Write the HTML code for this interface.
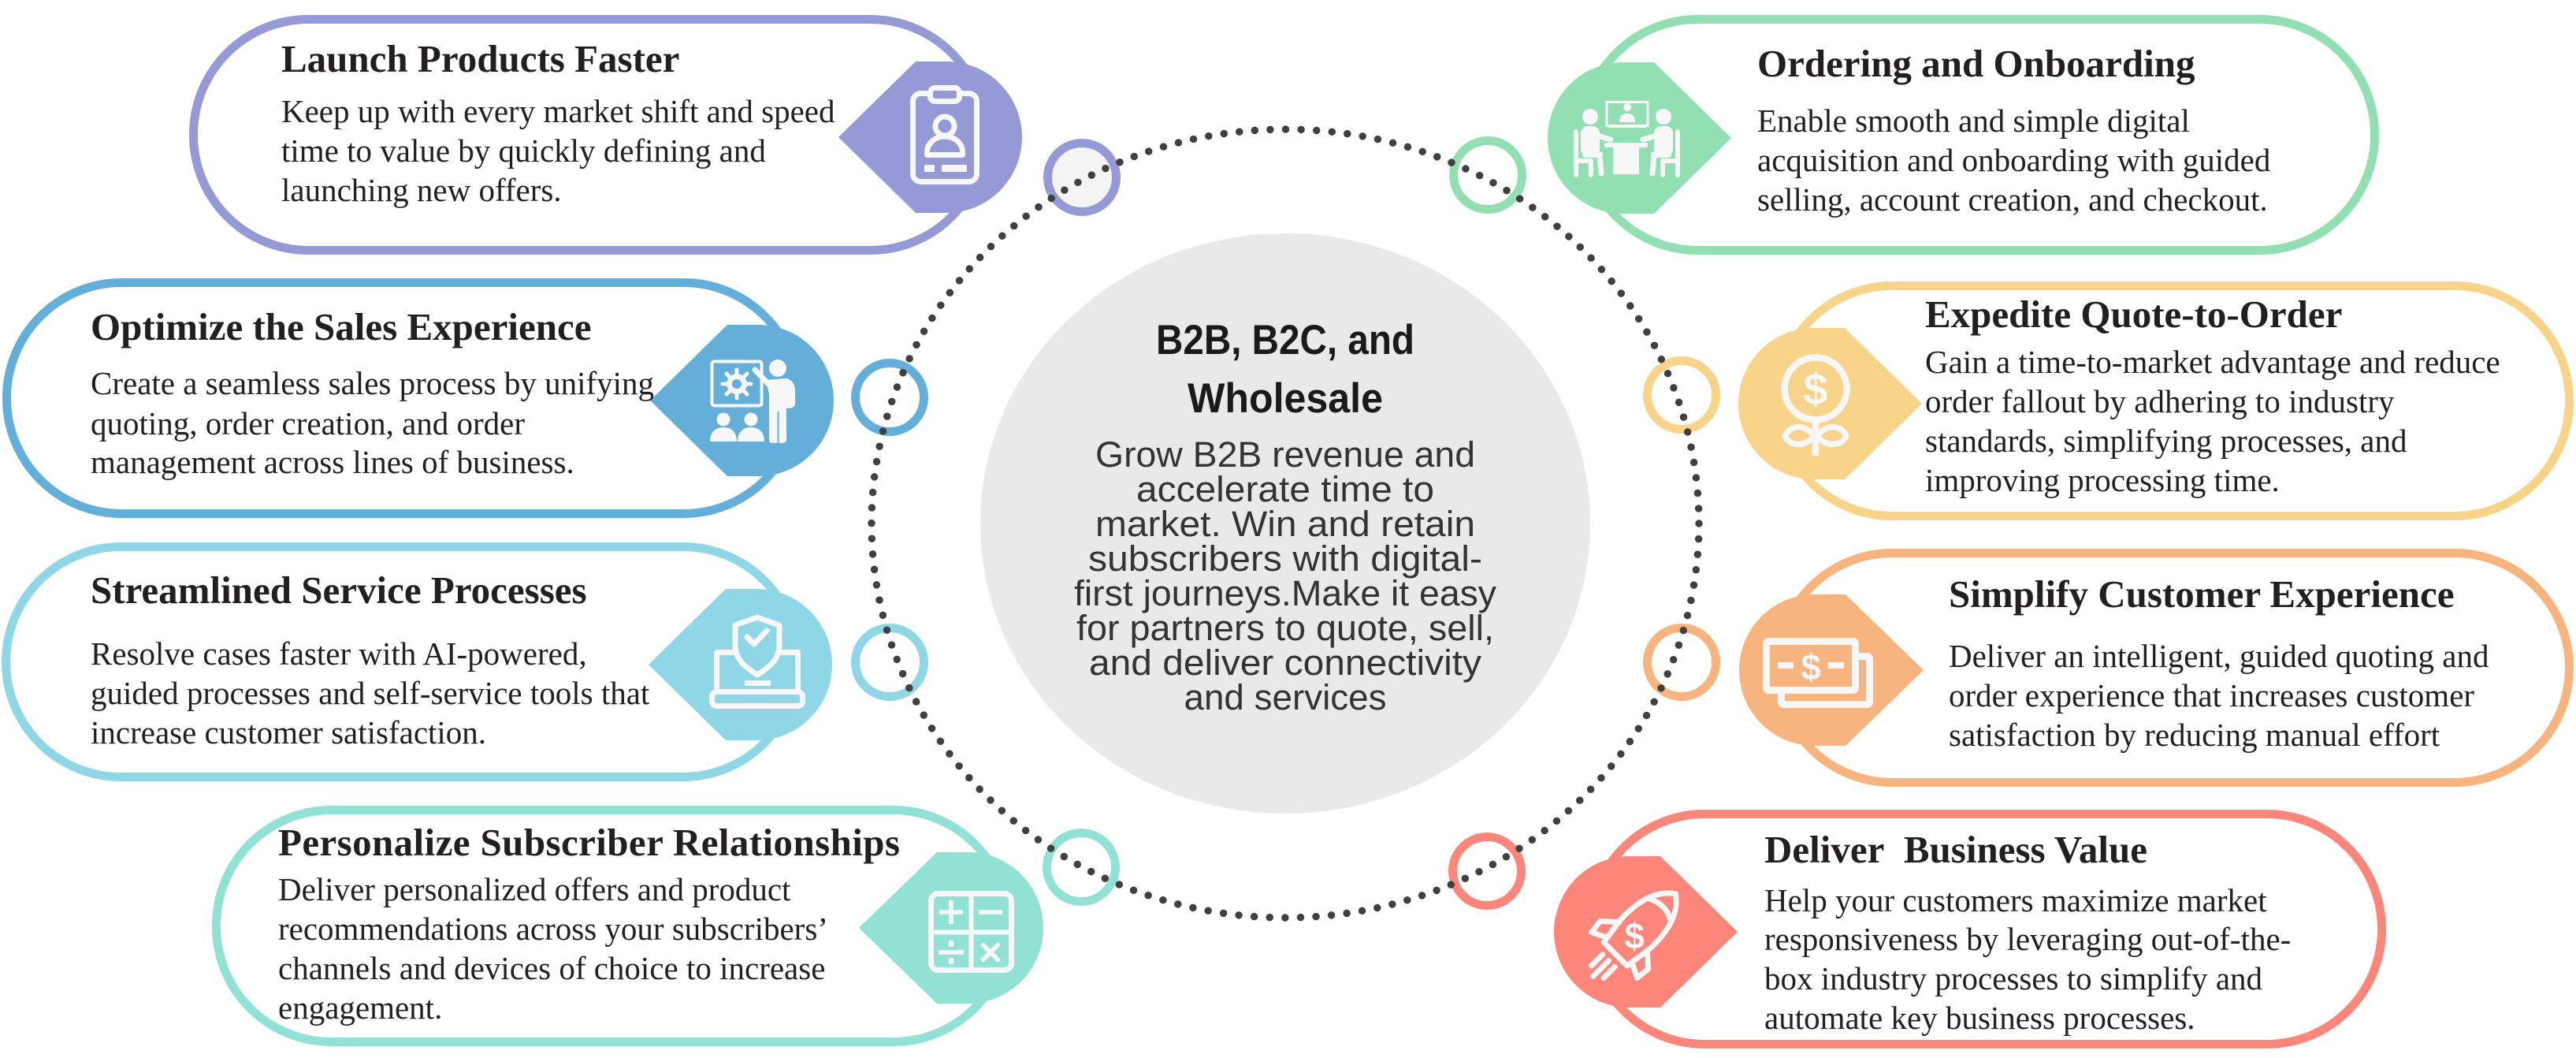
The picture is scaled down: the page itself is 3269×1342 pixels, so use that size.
<!DOCTYPE html>
<html>
<head>
<meta charset="utf-8">
<style>
html,body{margin:0;padding:0;background:#fff;}
svg{display:block;}
</style>
</head>
<body>
<svg xmlns="http://www.w3.org/2000/svg" width="3269" height="1342" viewBox="0 0 3269 1342">
<rect x="0" y="0" width="3269" height="1342" fill="#ffffff"/>

<!-- Center grey ellipse -->
<ellipse cx="1631" cy="664" rx="387" ry="368" fill="#e9e9e9"/>

<!-- Small ring circles -->
<g stroke-width="11" >
  <circle cx="1373" cy="225" r="43.5" fill="#f4f4f4" stroke="#9599d6"/>
  <circle cx="1888" cy="222" r="43.5" fill="#ffffff" stroke="#91dfb2"/>
  <circle cx="1129" cy="504" r="43.5" fill="#ffffff" stroke="#63afd9"/>
  <circle cx="2134" cy="501" r="43.5" fill="#ffffff" stroke="#f8d48a"/>
  <circle cx="1129" cy="840" r="43.5" fill="#ffffff" stroke="#8fd6e7"/>
  <circle cx="2134" cy="840" r="43.5" fill="#ffffff" stroke="#f7b47e"/>
  <circle cx="1372" cy="1100" r="43.5" fill="#ffffff" stroke="#91e1d5"/>
  <circle cx="1887" cy="1105" r="43.5" fill="#ffffff" stroke="#fd867b"/>
</g>

<!-- Dotted ring -->
<ellipse cx="1631" cy="664" rx="525" ry="500" fill="none" stroke="#404040" stroke-width="9.5" stroke-linecap="round" stroke-dasharray="0 19.64"/>

<!-- Center text -->
<g font-family="'Liberation Sans', Arial, sans-serif" text-anchor="middle">
  <text x="1631" y="449" font-size="53" font-weight="bold" fill="#1a1a1a" textLength="328" lengthAdjust="spacingAndGlyphs">B2B, B2C, and</text>
  <text x="1631" y="523" font-size="53" font-weight="bold" fill="#1a1a1a" textLength="248" lengthAdjust="spacingAndGlyphs">Wholesale</text>
  <g font-size="45" fill="#333333">
    <text x="1631" y="592" textLength="482" lengthAdjust="spacingAndGlyphs">Grow B2B revenue and</text>
    <text x="1631" y="636" textLength="378" lengthAdjust="spacingAndGlyphs">accelerate time to</text>
    <text x="1631" y="680" textLength="482" lengthAdjust="spacingAndGlyphs">market. Win and retain</text>
    <text x="1631" y="724" textLength="500" lengthAdjust="spacingAndGlyphs">subscribers with digital-</text>
    <text x="1631" y="768" textLength="536" lengthAdjust="spacingAndGlyphs">first journeys.Make it easy</text>
    <text x="1631" y="812" textLength="530" lengthAdjust="spacingAndGlyphs">for partners to quote, sell,</text>
    <text x="1631" y="856" textLength="498" lengthAdjust="spacingAndGlyphs">and deliver connectivity</text>
    <text x="1631" y="900" textLength="257" lengthAdjust="spacingAndGlyphs">and services</text>
  </g>
</g>

<!-- Pills -->
<g fill="#ffffff" stroke-width="11">
  <rect x="245.5" y="24.5" width="1005" height="293" rx="146" ry="146" stroke="#9599d6"/>
  <rect x="8.5" y="358.5" width="1005" height="293" rx="146" ry="146" stroke="#63afd9"/>
  <rect x="7.5" y="693.5" width="1005" height="292" rx="146" ry="146" stroke="#8fd6e7"/>
  <rect x="274.5" y="1027.5" width="1005" height="294" rx="146" ry="146" stroke="#91e1d5"/>
  <rect x="2008.5" y="24.5" width="1005" height="293" rx="146" ry="146" stroke="#91dfb2"/>
  <rect x="2255.5" y="362.5" width="1005" height="292" rx="146" ry="146" stroke="#f8d48a"/>
  <rect x="2255.5" y="701.5" width="1005" height="291" rx="146" ry="146" stroke="#f7b47e"/>
  <rect x="2017.5" y="1032.5" width="1005" height="292" rx="146" ry="146" stroke="#fd867b"/>
</g>

<!-- Badges (left side: point to left) -->
<g fill="#9599d6">
  <path d="M1064 174 L1162 78 L1201 78 L1201 270 L1162 270 Z"/><circle cx="1201" cy="174" r="96"/>
</g>
<g fill="#63afd9">
  <path d="M825 508 L923 412 L962 412 L962 604 L923 604 Z"/><circle cx="962" cy="508" r="96"/>
</g>
<g fill="#8fd6e7">
  <path d="M823 843 L921 747 L960 747 L960 939 L921 939 Z"/><circle cx="960" cy="843" r="96"/>
</g>
<g fill="#91e1d5">
  <path d="M1090 1177 L1189 1081 L1228 1081 L1228 1273 L1189 1273 Z"/><circle cx="1228" cy="1177" r="96"/>
</g>
<!-- Badges (right side: point to right) -->
<g fill="#91dfb2">
  <path d="M2197 175 L2099 79 L2060 79 L2060 271 L2099 271 Z"/><circle cx="2060" cy="175" r="96"/>
</g>
<g fill="#f8d48a">
  <path d="M2439 512 L2341 416 L2302 416 L2302 608 L2341 608 Z"/><circle cx="2302" cy="512" r="96"/>
</g>
<g fill="#f7b47e">
  <path d="M2441 850 L2342 754 L2303 754 L2303 946 L2342 946 Z"/><circle cx="2303" cy="850" r="96"/>
</g>
<g fill="#fd867b">
  <path d="M2205 1182 L2107 1086 L2068 1086 L2068 1278 L2107 1278 Z"/><circle cx="2068" cy="1182" r="96"/>
</g>

<!-- Icons -->
<!-- Purple: ID clipboard -->
<g stroke="#f7f7f7" stroke-width="7" fill="none" stroke-linejoin="round" stroke-linecap="round">
  <rect x="1158.5" y="118.5" width="81" height="112" rx="10"/>
  <rect x="1180.5" y="111.5" width="37" height="17" rx="6" fill="#9599d6"/>
  <circle cx="1199" cy="160" r="12"/>
  <path d="M1176.5 196.5 L1176.5 193 A22.5 20 0 0 1 1221.5 193 L1221.5 196.5 Z"/>
</g>
<g fill="#f7f7f7">
  <rect x="1173" y="209" width="13" height="9"/>
  <rect x="1195" y="209" width="32" height="9"/>
</g>

<!-- Blue: presenter -->
<g fill="#f7f7f7">
  <rect x="903.5" y="458.5" width="63" height="56" rx="3" fill="none" stroke="#f7f7f7" stroke-width="4"/>
  <circle cx="935" cy="487" r="13"/>
  <g stroke="#f7f7f7" stroke-width="5" stroke-linecap="round">
    <line x1="935" y1="469" x2="935" y2="505"/>
    <line x1="917" y1="487" x2="953" y2="487"/>
    <line x1="922" y1="474" x2="948" y2="500"/>
    <line x1="948" y1="474" x2="922" y2="500"/>
  </g>
  <circle cx="935" cy="487" r="6" fill="#63afd9"/>
  <circle cx="987" cy="467" r="11"/>
  <line x1="958" y1="469" x2="977" y2="489" stroke="#f7f7f7" stroke-width="7" stroke-linecap="round"/>
  <path d="M972 482 L998 480 C1006 482 1009 488 1009 496 L1009 512 C1009 516 1005 518 1000 518 L998 518 L998 558 C998 561 995 562 992 562 L981 562 C978 562 976 561 976 558 L976 500 Z"/>
  <line x1="987.5" y1="522" x2="987.5" y2="562" stroke="#63afd9" stroke-width="2"/>
  <circle cx="918" cy="532" r="8.5"/>
  <circle cx="953" cy="532" r="8.5"/>
  <path d="M901 560 C901 548 908 542 918 542 C928 542 935 548 935 560 Z"/>
  <path d="M936 560 C936 548 943 542 953 542 C963 542 970 548 970 560 Z"/>
</g>

<!-- Light blue: laptop with shield -->
<g stroke="#f7f7f7" stroke-width="7" fill="none" stroke-linejoin="round">
  <path d="M940 827.5 L909.5 827.5 L909.5 876 M1012.5 876 L1012.5 827.5 L982 827.5"/>
  <rect x="903.5" y="877.5" width="115" height="18" rx="6"/>
  <path d="M961 783 L989 793 L989 818 C989 836 977 846 961 856 C945 846 933 836 933 818 L933 793 Z" fill="#8fd6e7"/>
  <polyline points="948,808 957,817 973,800" stroke-linecap="round"/>
</g>
<rect x="945" y="863" width="33" height="7" fill="#f7f7f7"/>

<!-- Teal: calculator -->
<g stroke="#f7f7f7" fill="none">
  <rect x="1181.5" y="1133.5" width="102" height="97" rx="9" stroke-width="7"/>
  <line x1="1232.5" y1="1134" x2="1232.5" y2="1230" stroke-width="6"/>
  <line x1="1182" y1="1182.5" x2="1283" y2="1182.5" stroke-width="6"/>
  <g stroke-width="5.5">
    <line x1="1192" y1="1157" x2="1222" y2="1157"/>
    <line x1="1207" y1="1142" x2="1207" y2="1172"/>
    <line x1="1242" y1="1157" x2="1272" y2="1157"/>
    <line x1="1191" y1="1208" x2="1223" y2="1208"/>
    <line x1="1246" y1="1197" x2="1268" y2="1219"/>
    <line x1="1268" y1="1197" x2="1246" y2="1219"/>
  </g>
</g>
<g fill="#f7f7f7">
  <rect x="1204" y="1193" width="6" height="8"/>
  <rect x="1204" y="1215" width="6" height="8"/>
</g>

<!-- Green: meeting -->
<g fill="#f7f7f7">
  <rect x="2039" y="129.5" width="52" height="30" fill="none" stroke="#f7f7f7" stroke-width="3"/>
  <line x1="2041" y1="161" x2="2089" y2="161" stroke="#f7f7f7" stroke-width="2"/>
  <circle cx="2065" cy="136" r="5"/>
  <path d="M2055 155 C2055 147 2059 144 2065 144 C2071 144 2075 147 2075 155 Z"/>
  <rect x="2036" y="181" width="55" height="6" rx="2"/>
  <rect x="2047" y="187" width="33" height="34"/>
  <g id="gp">
    <circle cx="2018" cy="148" r="10"/>
    <rect x="2006" y="160" width="24" height="38" rx="9"/>
    <line x1="2020" y1="170" x2="2044" y2="177" stroke="#f7f7f7" stroke-width="7" stroke-linecap="round"/>
    <line x1="2012" y1="196" x2="2030" y2="196" stroke="#f7f7f7" stroke-width="8" stroke-linecap="round"/>
    <line x1="2030" y1="196" x2="2032" y2="220" stroke="#f7f7f7" stroke-width="7" stroke-linecap="round"/>
    <line x1="2000" y1="167" x2="2000" y2="222" stroke="#f7f7f7" stroke-width="6" stroke-linecap="round"/>
    <line x1="2000" y1="204" x2="2020" y2="204" stroke="#f7f7f7" stroke-width="6"/>
    <line x1="2019" y1="204" x2="2019" y2="222" stroke="#f7f7f7" stroke-width="6" stroke-linecap="round"/>
  </g>
  <use href="#gp" transform="translate(4129,0) scale(-1,1)"/>
</g>

<!-- Yellow: money flower -->
<g stroke="#f7f7f7" fill="none" stroke-width="8.5">
  <circle cx="2304" cy="493" r="39.5"/>
  <line x1="2304" y1="533" x2="2304" y2="578"/>
  <path d="M2302 553 C2292 538 2272 538 2265 553 C2272 567 2292 567 2302 553 Z" stroke-width="7.5" stroke-linejoin="round"/>
  <path d="M2306 553 C2316 538 2336 538 2343 553 C2336 567 2316 567 2306 553 Z" stroke-width="7.5" stroke-linejoin="round"/>
</g>
<text x="2304" y="513" font-family="'Liberation Sans', Arial, sans-serif" font-weight="bold" font-size="56" fill="#f7f7f7" text-anchor="middle">$</text>

<!-- Orange: bills -->
<g stroke="#f7f7f7" stroke-width="9" stroke-linejoin="round">
  <rect x="2260.5" y="832.5" width="112" height="61" rx="3" fill="none"/>
  <rect x="2241.5" y="813.5" width="113" height="62" rx="3" fill="#f7b47e"/>
</g>
<g fill="#f7f7f7">
  <rect x="2256" y="840" width="20" height="8"/>
  <rect x="2320" y="840" width="20" height="8"/>
</g>
<text x="2298" y="862" font-family="'Liberation Sans', Arial, sans-serif" font-weight="bold" font-size="46" fill="#f7f7f7" text-anchor="middle">$</text>

<!-- Salmon: rocket -->
<g transform="translate(2074,1186) rotate(45)" stroke="#f7f7f7" stroke-width="7" fill="none" stroke-linejoin="round" stroke-linecap="round">
  <path d="M0 -74 C20 -60 28 -35 26 0 L21 34 L-21 34 L-26 0 C-28 -35 -20 -60 0 -74 Z"/>
  <path d="M-19 -46 Q0 -56 19 -46"/>
  <path d="M-25 2 L-43 18 L-41 36 L-23 27"/>
  <path d="M25 2 L43 18 L41 36 L23 27"/>
  <line x1="-11" y1="46" x2="-11" y2="66"/>
  <line x1="0" y1="46" x2="0" y2="74"/>
  <line x1="11" y1="46" x2="11" y2="66"/>
</g>
<text x="2074" y="1203" font-family="'Liberation Sans', Arial, sans-serif" font-weight="bold" font-size="46" fill="#f7f7f7" text-anchor="middle">$</text>

<!-- Pill text -->
<g font-family="'Liberation Serif', 'Times New Roman', serif" fill="#231f20">
  <!-- Purple -->
  <text x="357" y="91" font-size="49" font-weight="bold">Launch Products Faster</text>
  <g font-size="41">
    <text x="357" y="155">Keep up with every market shift and speed</text>
    <text x="357" y="205">time to value by quickly defining and</text>
    <text x="357" y="255">launching new offers.</text>
  </g>
  <!-- Blue -->
  <text x="115" y="431" font-size="49" font-weight="bold">Optimize the Sales Experience</text>
  <g font-size="41">
    <text x="115" y="500">Create a seamless sales process by unifying</text>
    <text x="115" y="551">quoting, order creation, and order</text>
    <text x="115" y="600">management across lines of business.</text>
  </g>
  <!-- Light blue -->
  <text x="115" y="765" font-size="49" font-weight="bold">Streamlined Service Processes</text>
  <g font-size="41">
    <text x="115" y="843">Resolve cases faster with AI-powered,</text>
    <text x="115" y="893">guided processes and self-service tools that</text>
    <text x="115" y="943">increase customer satisfaction.</text>
  </g>
  <!-- Teal -->
  <text x="353" y="1085" font-size="49" font-weight="bold" textLength="789" lengthAdjust="spacing">Personalize Subscriber Relationships</text>
  <g font-size="41">
    <text x="353" y="1142">Deliver personalized offers and product</text>
    <text x="353" y="1192">recommendations across your subscribers’</text>
    <text x="353" y="1242">channels and devices of choice to increase</text>
    <text x="353" y="1292">engagement.</text>
  </g>
  <!-- Green -->
  <text x="2230" y="97" font-size="49" font-weight="bold">Ordering and Onboarding</text>
  <g font-size="41">
    <text x="2230" y="167">Enable smooth and simple digital</text>
    <text x="2230" y="217">acquisition and onboarding with guided</text>
    <text x="2230" y="267">selling, account creation, and checkout.</text>
  </g>
  <!-- Yellow -->
  <text x="2443" y="415" font-size="49" font-weight="bold">Expedite Quote-to-Order</text>
  <g font-size="41">
    <text x="2443" y="473">Gain a time-to-market advantage and reduce</text>
    <text x="2443" y="523">order fallout by adhering to industry</text>
    <text x="2443" y="573">standards, simplifying processes, and</text>
    <text x="2443" y="623">improving processing time.</text>
  </g>
  <!-- Orange -->
  <text x="2473" y="770" font-size="49" font-weight="bold">Simplify Customer Experience</text>
  <g font-size="41">
    <text x="2473" y="846">Deliver an intelligent, guided quoting and</text>
    <text x="2473" y="896">order experience that increases customer</text>
    <text x="2473" y="946">satisfaction by reducing manual effort</text>
  </g>
  <!-- Salmon -->
  <text x="2239" y="1094" font-size="49" font-weight="bold">Deliver&#160; Business Value</text>
  <g font-size="41">
    <text x="2239" y="1156">Help your customers maximize market</text>
    <text x="2239" y="1205">responsiveness by leveraging out-of-the-</text>
    <text x="2239" y="1255">box industry processes to simplify and</text>
    <text x="2239" y="1305">automate key business processes.</text>
  </g>
</g>
</svg>
</body>
</html>
